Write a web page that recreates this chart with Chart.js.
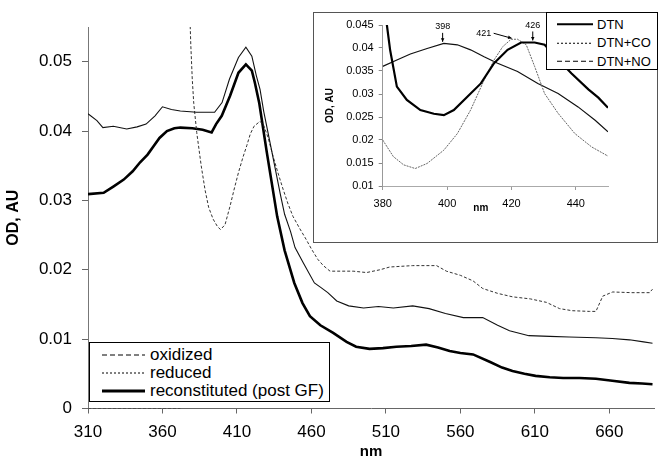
<!DOCTYPE html>
<html>
<head>
<meta charset="utf-8">
<script src="https://cdn.jsdelivr.net/npm/chart.js@4.4.1/dist/chart.umd.min.js"></script>
<style>
  html, body { margin: 0; padding: 0; background: #fff; }
  body { width: 658px; height: 462px; position: relative; overflow: hidden;
         font-family: Arial, "Liberation Sans", sans-serif; color: #000; }
  #main { position: absolute; left: 0; top: 0; }
  #insetBox { position: absolute; left: 313px; top: 12px; width: 345px; height: 231px;
              border: 1px solid #555; box-sizing: border-box; background: #fff; }
  #inset { position: absolute; left: 0; top: 0; }
  .legend { position: absolute; background: #fff; border: 1px solid #000; box-sizing: border-box; }
  .legend .row { display: flex; align-items: center; white-space: nowrap; }
  .legend svg { flex: none; }
</style>
</head>
<body>
<canvas id="main" width="658" height="462"></canvas>
<div id="insetBox"><canvas id="inset" width="343" height="229"></canvas></div>
<div class="legend" id="mainLegend" style="left:89px;top:342px;width:241px;height:60px;padding-top:3px;font-size:17px"></div>
<div class="legend" id="insetLegend" style="left:546px;top:12px;width:112px;height:58px;padding-top:2px;font-size:13px"></div>
<script>
// main chart: absorbance spectra
const xTicks = [310, 360, 410, 460, 510, 560, 610, 660];
const yTicks = [0, 0.01, 0.02, 0.03, 0.04, 0.05];

const oxidizedNm = [310, 316, 320, 327, 336, 343, 349, 355, 360, 366, 372, 383, 395, 400, 405, 411, 416, 420, 423, 425.5, 428, 433, 439, 442, 446, 449, 454.5, 462, 466, 471, 477, 485, 495, 505, 515, 528, 539, 550, 562, 575, 585, 593, 606, 620, 633, 651, 662, 673.5, 683, 689];
const oxidizedOD = [0.0425, 0.0415, 0.0405, 0.0407, 0.0403, 0.0406, 0.041, 0.0422, 0.0435, 0.0431, 0.0429, 0.0427, 0.0427, 0.0441, 0.0475, 0.0506, 0.0521, 0.0508, 0.048, 0.046, 0.0428, 0.0375, 0.031, 0.028, 0.0255, 0.0232, 0.021, 0.0181, 0.0175, 0.0167, 0.0155, 0.0148, 0.0145, 0.0147, 0.0145, 0.0148, 0.0144, 0.0137, 0.0131, 0.0131, 0.012, 0.0112, 0.0105, 0.0104, 0.0103, 0.0102, 0.0101, 0.0099, 0.0096, 0.0094];

const reducedNm = [310, 372, 375, 378.2, 379, 380, 381, 383, 386, 388.6, 391, 394, 397, 399, 402, 405.4, 408, 411, 414, 416.6, 419, 421.5, 425.5, 428, 431, 434.2, 437.5, 441, 444.3, 447.6, 452, 456.4, 460, 464.3, 468, 472.5, 488, 497, 506, 512.6, 528, 544, 550.6, 560, 568.5, 575, 585, 595, 607, 617.8, 626.6, 635, 646.6, 651, 655.6, 662.3, 675, 687, 689];
const reducedOD = [0, 0, null, 0.058, 0.0525, 0.0475, 0.044, 0.0398, 0.035, 0.0315, 0.029, 0.0273, 0.0262, 0.0258, 0.0265, 0.0292, 0.0315, 0.034, 0.0362, 0.0379, 0.0396, 0.0407, 0.0414, 0.0408, 0.039, 0.0364, 0.034, 0.0316, 0.0295, 0.0277, 0.026, 0.0244, 0.023, 0.0215, 0.0206, 0.0198, 0.0198, 0.0196, 0.02, 0.0204, 0.0206, 0.0206, 0.0198, 0.0192, 0.0184, 0.0173, 0.0166, 0.0161, 0.0158, 0.0153, 0.0144, 0.0141, 0.014, 0.014, 0.0162, 0.0168, 0.0167, 0.0167, 0.0172];

const reconNm = [310, 320.5, 327, 334, 340, 345, 350, 354, 358, 363, 368, 372, 380, 387, 393, 396, 399.8, 405.4, 411, 416, 420, 422, 425, 430, 437, 442, 448.5, 454, 459, 466, 474.6, 483.6, 490, 499, 508, 517, 527, 537, 545, 552.8, 560, 568.5, 580, 588, 595, 603, 610.5, 620, 629, 640, 651, 662, 673.5, 682, 689];
const reconOD = [0.0309, 0.0311, 0.032, 0.033, 0.0342, 0.0355, 0.0366, 0.0378, 0.039, 0.04, 0.0404, 0.0405, 0.0404, 0.0402, 0.0398, 0.041, 0.0422, 0.0451, 0.0484, 0.0496, 0.0487, 0.047, 0.044, 0.037, 0.0277, 0.0228, 0.0181, 0.0152, 0.0133, 0.012, 0.0109, 0.0096, 0.0089, 0.0086, 0.0087, 0.0089, 0.009, 0.0092, 0.0088, 0.0083, 0.008, 0.0078, 0.0067, 0.0059, 0.0054, 0.005, 0.0047, 0.0045, 0.0044, 0.0044, 0.0043, 0.004, 0.0037, 0.0036, 0.0035];

// inset: Soret region
const insetXTicks = [380, 400, 420, 440];
const insetYTicks = [0.01, 0.015, 0.02, 0.025, 0.03, 0.035, 0.04, 0.045];

const dtnNm = [380, 381.3, 382.3, 384.4, 387.5, 391.7, 395.9, 399, 402.1, 406.3, 410.5, 414.6, 418.8, 423, 427.2, 430.3, 434.5, 438.6, 443.9, 447, 450];
const dtnOD = [0.0485, 0.045, 0.0396, 0.0316, 0.0287, 0.0265, 0.0257, 0.0254, 0.0265, 0.0294, 0.0323, 0.0367, 0.0396, 0.0412, 0.0412, 0.0407, 0.0375, 0.0345, 0.031, 0.0292, 0.027];
const dtnCoNm = [380, 383.3, 386.5, 390.1, 393.8, 399, 403.2, 407.3, 411.5, 414.6, 417.3, 419.9, 421.9, 424.6, 427.2, 430.3, 434.5, 439.7, 444.9, 450];
const dtnCoOD = [0.02, 0.0164, 0.0146, 0.0138, 0.0149, 0.0178, 0.0214, 0.0265, 0.033, 0.0374, 0.0403, 0.0419, 0.0419, 0.0407, 0.036, 0.0301, 0.0258, 0.0214, 0.0185, 0.0165];
const dtnNoNm = [380, 384.4, 388.6, 393.8, 399, 403.2, 407.3, 411.5, 415.7, 421.9, 428.2, 434.5, 440.7, 446, 450];
const dtnNoOD = [0.036, 0.0374, 0.0387, 0.0399, 0.041, 0.0407, 0.0396, 0.0381, 0.0367, 0.0349, 0.0323, 0.0301, 0.0272, 0.0243, 0.0218];

const peakNm = [398, 421, 426];
const peakOD = [0.0409, 0.0419, 0.0412];

const fontFamily = 'Arial, "Liberation Sans", sans-serif';
Chart.defaults.font.family = fontFamily;
Chart.defaults.color = '#000';

function pts(xs, ys) {
  return xs.map((x, i) => ({ x: x, y: ys[i] }));
}
function fmt(v) {
  return String(+v.toFixed(3));
}

new Chart(document.getElementById('main'), {
  type: 'line',
  data: {
    datasets: [
      { label: 'oxidized', data: pts(oxidizedNm, oxidizedOD), borderColor: '#111', borderWidth: 1.1, pointRadius: 0 },
      { label: 'reduced', data: pts(reducedNm, reducedOD), borderColor: '#333', borderWidth: 1, borderDash: [3, 2], pointRadius: 0 },
      { label: 'reconstituted (post GF)', data: pts(reconNm, reconOD), borderColor: '#000', borderWidth: 2.6, pointRadius: 0 }
    ]
  },
  options: {
    responsive: false,
    animation: false,
    layout: { padding: { top: 27, right: 4, left: 0, bottom: 0 } },
    plugins: { legend: { display: false }, tooltip: { enabled: false } },
    scales: {
      x: {
        type: 'linear', min: 310, max: 690,
        afterBuildTicks: s => { s.ticks = xTicks.map(v => ({ value: v })); },
        afterFit: s => { s.height = 53.5; },
        ticks: { font: { size: 17 }, color: '#000', padding: 9, maxRotation: 0, autoSkip: false },
        grid: { drawOnChartArea: false, tickLength: 5, color: '#666' },
        border: { color: '#666' },
        title: { display: true, text: 'nm', font: { size: 15, weight: 'bold' }, padding: { top: 0, bottom: 1 } }
      },
      y: {
        min: 0, max: 0.055,
        afterBuildTicks: s => { s.ticks = yTicks.map(v => ({ value: v })); },
        afterFit: s => { s.width = 88; },
        ticks: { font: { size: 17 }, color: '#000', padding: 10, callback: fmt },
        grid: { drawOnChartArea: false, tickLength: 6, color: '#666' },
        border: { color: '#777' },
        title: { display: true, text: 'OD, AU', font: { size: 16, weight: 'bold' }, padding: { top: 4, bottom: 0 } }
      }
    }
  }
});

// arrows + wavelength labels at the inset peaks, and the inset "nm" title
const peakLabels = {
  id: 'peakLabels',
  afterDatasetsDraw(chart) {
    const { ctx, scales: { x, y } } = chart;
    ctx.save();
    ctx.font = '9px ' + fontFamily;
    ctx.fillStyle = '#000';
    ctx.strokeStyle = '#000';
    ctx.lineWidth = 1;
    ctx.textAlign = 'center';
    ctx.textBaseline = 'middle';
    peakNm.forEach((nm, i) => {
      const px = x.getPixelForValue(nm);
      const py = y.getPixelForValue(peakOD[i]);
      let tx, ty, ax, ay;
      if (i === 1) {
        tx = px - 31; ty = py - 6; ax = px - 21; ay = py - 6;
      } else {
        tx = px + 2; ty = py - 17; ax = px + 2; ay = py - 11;
      }
      ctx.fillText(String(nm), tx, ty);
      const ex = i === 1 ? px - 3 : px + 2;
      const ey = i === 1 ? py - 1 : py - 2;
      ctx.beginPath();
      ctx.moveTo(ax, ay);
      ctx.lineTo(ex, ey);
      ctx.stroke();
      const ang = Math.atan2(ey - ay, ex - ax);
      ctx.beginPath();
      ctx.moveTo(ex, ey);
      ctx.lineTo(ex - 4 * Math.cos(ang - 0.45), ey - 4 * Math.sin(ang - 0.45));
      ctx.lineTo(ex - 4 * Math.cos(ang + 0.45), ey - 4 * Math.sin(ang + 0.45));
      ctx.closePath();
      ctx.fill();
    });
    // axis title sits between the 400 and 420 ticks, like the original
    ctx.font = 'bold 10px ' + fontFamily;
    ctx.fillText('nm', x.getPixelForValue(410.5), x.bottom - 34);
    ctx.restore();
  }
};

new Chart(document.getElementById('inset'), {
  type: 'line',
  data: {
    datasets: [
      { label: 'DTN', data: pts(dtnNm, dtnOD), borderColor: '#000', borderWidth: 2.2, pointRadius: 0 },
      { label: 'DTN+CO', data: pts(dtnCoNm, dtnCoOD), borderColor: '#666', borderWidth: 1, borderDash: [2, 1], pointRadius: 0 },
      { label: 'DTN+NO', data: pts(dtnNoNm, dtnNoOD), borderColor: '#111', borderWidth: 1.2, pointRadius: 0 }
    ]
  },
  options: {
    responsive: false,
    animation: false,
    layout: { padding: { top: 12, right: 49, left: 0, bottom: 0 } },
    plugins: { legend: { display: false }, tooltip: { enabled: false } },
    scales: {
      x: {
        type: 'linear', min: 380, max: 450,
        afterBuildTicks: s => { s.ticks = insetXTicks.map(v => ({ value: v })); },
        afterFit: s => { s.height = 56; },
        ticks: { font: { size: 11 }, color: '#000', padding: 7, maxRotation: 0, autoSkip: false },
        grid: { drawOnChartArea: false, tickLength: 4, color: '#999' },
        border: { color: '#aaa' }
      },
      y: {
        min: 0.01, max: 0.045,
        afterBuildTicks: s => { s.ticks = insetYTicks.map(v => ({ value: v })); },
        afterFit: s => { s.width = 68.7; },
        ticks: { font: { size: 11 }, color: '#000', padding: 5, callback: fmt },
        grid: { drawOnChartArea: false, tickLength: 4, color: '#888' },
        border: { color: '#999' },
        title: { display: true, text: 'OD, AU', font: { size: 10, weight: 'bold' }, padding: { top: 10, bottom: 0 } }
      }
    }
  },
  plugins: [peakLabels]
});

// legends (line samples + labels)
function buildLegend(el, items, rowH, x1, x2, svgW) {
  items.forEach(it => {
    const row = document.createElement('div');
    row.className = 'row';
    row.style.height = rowH + 'px';
    row.innerHTML =
      '<svg width="' + svgW + '" height="' + rowH + '"><line x1="' + x1 + '" y1="' + rowH / 2 + '" x2="' + x2 + '" y2="' + rowH / 2 +
      '" stroke="#000" stroke-width="' + it.w + '" stroke-dasharray="' + it.dash + '"/></svg><span>' + it.label + '</span>';
    el.appendChild(row);
  });
}
buildLegend(document.getElementById('mainLegend'), [
  { label: 'oxidized', w: 1, dash: '5,3' },
  { label: 'reduced', w: 1, dash: '2,2' },
  { label: 'reconstituted (post GF)', w: 3, dash: 'none' }
], 18, 12, 55, 60);
buildLegend(document.getElementById('insetLegend'), [
  { label: 'DTN', w: 2, dash: 'none' },
  { label: 'DTN+CO', w: 1, dash: '2,2' },
  { label: 'DTN+NO', w: 1, dash: '5,3' }
], 18.5, 10, 46, 50);
</script>
</body>
</html>
